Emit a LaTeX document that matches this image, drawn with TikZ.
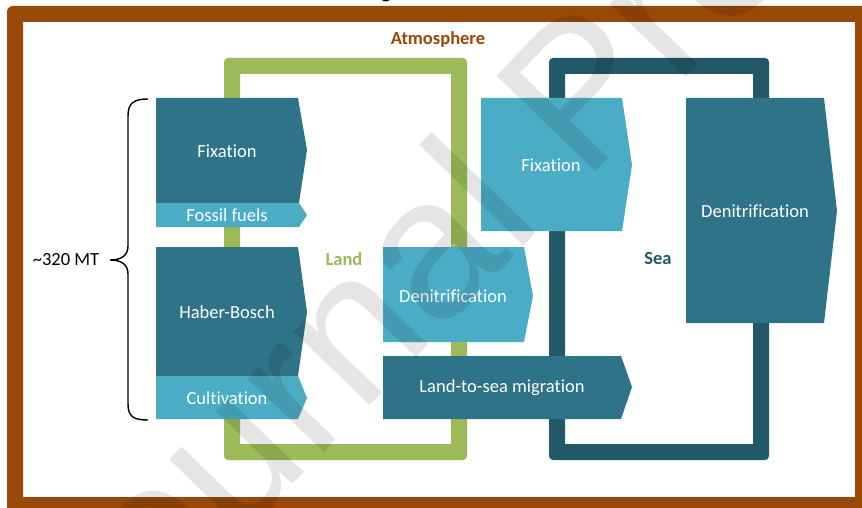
\documentclass[tikz,border=0pt]{standalone}
\usepackage{fontspec}
\setmainfont{Carlito}[Ligatures=NoCommon]
\newfontfamily\wmfont{Liberation Sans}
\definecolor{brownF}{HTML}{984807}
\definecolor{greenL}{HTML}{9BBB59}
\definecolor{seaD}{HTML}{215968}
\definecolor{boxD}{HTML}{2E7387}
\definecolor{boxL}{HTML}{4BACC6}
\begin{document}
\begin{tikzpicture}[x=1pt,y=-1pt,
  lbl/.style={text=white, font=\fontsize{18.5}{20}\selectfont, inner sep=0pt},
  ttl/.style={font=\bfseries\fontsize{18.5}{20}\selectfont, inner sep=0pt},
  darkbox/.style={fill=boxD},
  lightbox/.style={fill=boxL}]
\useasboundingbox (0,0) rectangle (862,508);
\clip (0,0) rectangle (862,508);
\fill[white] (0,0) rectangle (862,508);
% cut-off title glyph
\node[font=\bfseries\fontsize{20}{22}\selectfont, anchor=base, inner sep=0pt] (title) at (386,-1) {g};
% brown frame
\fill[brownF, even odd rule] [rounded corners=6pt] (7,6) rectangle (869,513) [sharp corners] (23,22) rectangle (855,497);
% land & sea frames
\fill[greenL, even odd rule] [rounded corners=4pt] (224,58) rectangle (467,460) [sharp corners] (240,74) rectangle (451,444);
\fill[seaD, even odd rule] [rounded corners=4pt] (549,58) rectangle (769,460) [sharp corners] (565,74) rectangle (753,444);
% boxes
\fill[darkbox] (156,98) -- (298,98) -- (307,150) -- (299,203) -- (156,203) -- cycle;
\fill[lightbox] (156,203) -- (299,203) -- (307,215) -- (299,227) -- (156,227) -- cycle;
\fill[darkbox] (156,247) -- (298,247) -- (307,312) -- (298,376) -- (156,376) -- cycle;
\fill[lightbox] (156,376) -- (298,376) -- (307,398) -- (298,419) -- (156,419) -- cycle;
\fill[lightbox] (383,247) -- (524,247) -- (533,296) -- (524,342) -- (383,342) -- cycle;
\fill[darkbox] (383,356) -- (621,356) -- (632,387) -- (621,419) -- (383,419) -- cycle;
\fill[lightbox] (481,98) -- (622,98) -- (632,165) -- (622,231) -- (481,231) -- cycle;
\fill[darkbox] (686,98) -- (824,98) -- (837,211) -- (824,323) -- (686,323) -- cycle;
% labels
\node[lbl] (fixL) at (227,151) {Fixation};
\node[lbl] (fossil) at (227,215) {Fossil fuels};
\node[lbl] (haber) at (227,312) {Haber-Bosch};
\node[lbl] (cult) at (227,398) {Cultivation};
\node[lbl] (denL) at (453,296) {Denitrification};
\node[lbl] (l2s) at (502,388) {Land-to-sea migration};
\node[lbl] (fixS) at (551,165) {Fixation};
\node[lbl] (denS) at (755,211) {Denitrification};
\node[ttl, text=brownF] (atm) at (438,39) {Atmosphere};
\node[ttl, text=greenL] (land) at (344,259) {Land};
\node[ttl, text=seaD] (sea) at (658,259) {Sea};
\node[font=\fontsize{18.5}{20}\selectfont, inner sep=0pt] (mt) at (66,260) {\textasciitilde320 MT};
% brace
\draw[black, line width=1.4pt] (148,99) .. controls (134,99) and (128,103) .. (128,116) -- (128,246) .. controls (128,255) and (122,260) .. (110,260) .. controls (122,260) and (128,265) .. (128,274) -- (128,404) .. controls (128,417) and (134,420) .. (148,420);
% watermark
\node[rotate=46, anchor=base west, inner sep=0pt, text=black, opacity=0.1, font=\wmfont\fontsize{200}{200}\selectfont] (wm) at (90,695) {Journal Pre-proof};
\end{tikzpicture}
\end{document}
